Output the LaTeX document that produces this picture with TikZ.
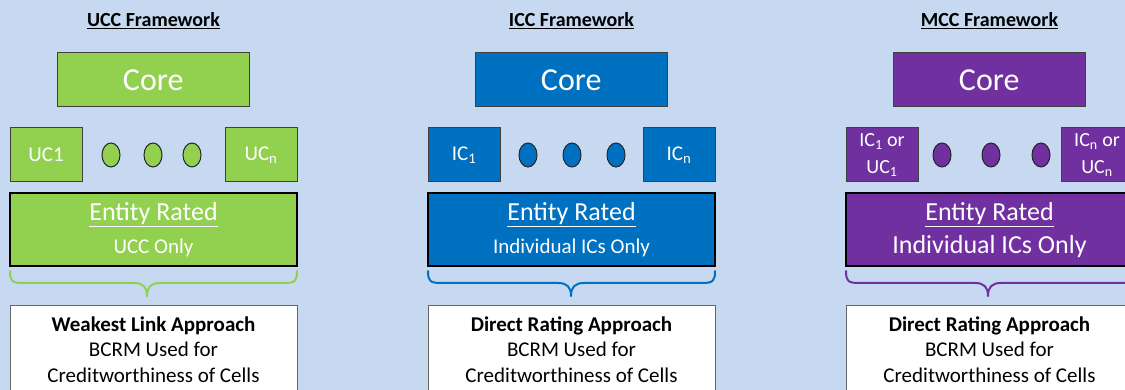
\documentclass[tikz,border=0pt]{standalone}
\usepackage{fontspec}
\setmainfont{Carlito}
\usetikzlibrary{shapes.geometric}
\definecolor{bgc}{HTML}{C6D9F1}
\definecolor{ugreen}{HTML}{92D050}
\definecolor{iblue}{HTML}{0070C0}
\definecolor{mpurple}{HTML}{7030A0}
% #1 left x, #2 right x, #3 tip x, #4 colour
\newcommand\MyBrace[4]{%
  \draw[#4, line width=2pt, line join=round, line cap=round]
    (#1,271) .. controls (#1,281) and (#1+2,283) .. (#1+13,283)
    -- (#3-13,283) .. controls (#3-4,283) and (#3,287) .. (#3,296)
    .. controls (#3,287) and (#3+4,283) .. (#3+13,283)
    -- (#2-13,283) .. controls (#2-2,283) and (#2,281) .. (#2,271);}
\tikzset{
  box/.style={draw=black!75, line width=1pt, inner sep=0pt, text=white},
  corebox/.style={box, minimum width=191.5pt, minimum height=54pt, font=\fontsize{32}{36}\selectfont},
  cellbox/.style={box, minimum width=72pt, minimum height=54pt, font=\fontsize{21}{25}\selectfont},
  cellboxtwo/.style={box, minimum width=72pt, minimum height=54pt, align=center, font=\fontsize{20}{27}\selectfont},
  dot/.style={ellipse, draw=black!85, line width=1pt, minimum width=18pt, minimum height=24pt, inner sep=0pt},
  entbox/.style={draw=black, line width=2pt, minimum width=287pt, minimum height=73pt, inner sep=0pt},
  whitebox/.style={draw=black!60, fill=white, line width=1pt, minimum width=287pt, minimum height=100pt, inner sep=0pt},
  titletext/.style={anchor=base, inner sep=0pt, font=\fontsize{20}{24}\selectfont\bfseries},
  enttext/.style={anchor=base, inner sep=0pt, text=white, font=\fontsize{26}{30}\selectfont},
  subtext/.style={anchor=base, inner sep=0pt, text=white, font=\fontsize{21}{25}\selectfont},
  bodytext/.style={anchor=base, inner sep=0pt, font=\fontsize{21}{25}\selectfont},
}
\begin{document}
\begin{tikzpicture}[x=1pt, y=-1pt]
\useasboundingbox (0,0) rectangle (1125,390);
\fill[bgc] (0,0) rectangle (1125,390);
\clip (0,0) rectangle (1125,390);

% ---------- UCC ----------
\node[titletext] (utitle) at (153.5,27) {\underline{UCC Framework}};
\node[corebox, fill=ugreen] (ucore) at (153.25,80) {Core};
\node[cellbox, fill=ugreen] (uc1) at (46,155) {UC1};
\node[dot, fill=ugreen] (ud1) at (111,155) {};
\node[dot, fill=ugreen] (ud2) at (153,155) {};
\node[dot, fill=ugreen] (ud3) at (192,155) {};
\node[cellbox, fill=ugreen] (ucn) at (261,155) {UC\textsubscript{n}};
\node[entbox, fill=ugreen] (uent) at (153.5,229.5) {};
\node[enttext] (uentt) at (153.5,221) {\underline{Entity Rated}};
\node[subtext] (uents) at (153.5,254) {UCC Only};
\MyBrace{10}{297}{147}{ugreen}
\node[whitebox] (uwhite) at (153.5,355) {};
\node[bodytext] (uw1) at (153.5,331) {\textbf{Weakest Link Approach}};
\node[bodytext] (uw2) at (153.5,356) {BCRM Used for};
\node[bodytext] (uw3) at (153.5,382) {Creditworthiness of Cells};

% ---------- ICC ----------
\node[titletext] (ititle) at (571.5,27) {\underline{ICC Framework}};
\node[corebox, fill=iblue] (icore) at (571.25,80) {Core};
\node[cellbox, fill=iblue] (ic1) at (464,155) {IC\textsubscript{1}};
\node[dot, fill=iblue] (id1) at (528,155) {};
\node[dot, fill=iblue] (id2) at (572,155) {};
\node[dot, fill=iblue] (id3) at (616,155) {};
\node[cellbox, fill=iblue] (icn) at (679,155) {IC\textsubscript{n}};
\node[entbox, fill=iblue] (ient) at (571.5,229.5) {};
\node[enttext] (ientt) at (571.5,221) {\underline{Entity Rated}};
\node[subtext] (ients) at (571.5,254) {Individual ICs Only};
\MyBrace{428}{715}{571}{iblue}
\node[whitebox] (iwhite) at (571.5,355) {};
\node[bodytext] (iw1) at (571.5,331) {\textbf{Direct Rating Approach}};
\node[bodytext] (iw2) at (571.5,356) {BCRM Used for};
\node[bodytext] (iw3) at (571.5,382) {Creditworthiness of Cells};

% ---------- MCC ----------
\node[titletext] (mtitle) at (989.5,27) {\underline{MCC Framework}};
\node[corebox, fill=mpurple] (mcore) at (989.25,80) {Core};
\node[cellboxtwo, fill=mpurple] (mc1) at (882,155) {IC\textsubscript{1} or\\UC\textsubscript{1}};
\node[dot, fill=mpurple] (md1) at (942,155) {};
\node[dot, fill=mpurple] (md2) at (991,155) {};
\node[dot, fill=mpurple] (md3) at (1041,155) {};
\node[cellboxtwo, fill=mpurple] (mcn) at (1097,155) {IC\textsubscript{n} or\\UC\textsubscript{n}};
\node[entbox, fill=mpurple] (ment) at (989.5,229.5) {};
\node[enttext] (mentt) at (989.5,221) {\underline{Entity Rated}};
\node[enttext] (ments) at (989.5,254) {Individual ICs Only};
\MyBrace{846}{1133}{988}{mpurple}
\node[whitebox] (mwhite) at (989.5,355) {};
\node[bodytext] (mw1) at (989.5,331) {\textbf{Direct Rating Approach}};
\node[bodytext] (mw2) at (989.5,356) {BCRM Used for};
\node[bodytext] (mw3) at (989.5,382) {Creditworthiness of Cells};
\end{tikzpicture}
\end{document}
